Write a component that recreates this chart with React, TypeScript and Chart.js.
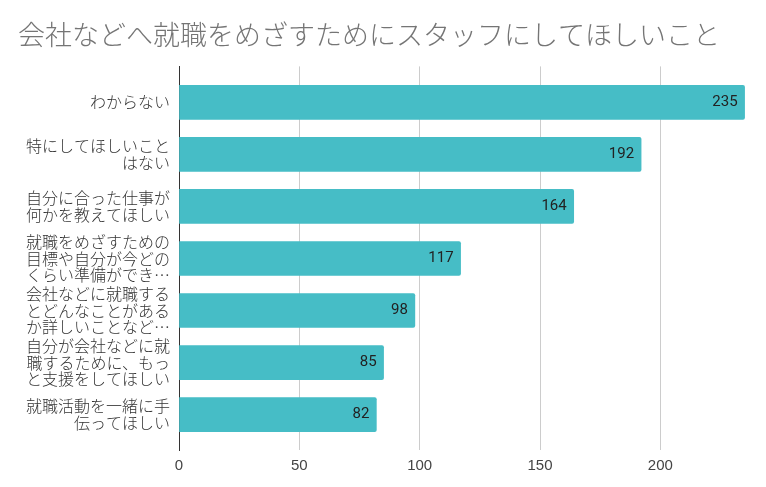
import React, { useEffect, useRef } from "react";
import { Chart, registerables } from "chart.js";

Chart.register(...registerables);

const TITLE = "会社などへ就職をめざすためにスタッフにしてほしいこと";

const categories: string[][] = [
  ["わからない"],
  ["特にしてほしいこと", "はない"],
  ["自分に合った仕事が", "何かを教えてほしい"],
  ["就職をめざすための", "目標や自分が今どの", "くらい準備ができ…"],
  ["会社などに就職する", "とどんなことがある", "か詳しいことなど…"],
  ["自分が会社などに就", "職するために、もっ", "と支援をしてほしい"],
  ["就職活動を一緒に手", "伝ってほしい"],
];

const values: number[] = [235, 192, 164, 117, 98, 85, 82];

const xTicks: number[] = [0, 50, 100, 150, 200];

const JP = "'Noto Sans CJK JP', 'Noto Sans', sans-serif";
const NUM = "Roboto, 'Noto Sans', sans-serif";
const TICK = "'Liberation Sans', Arial, sans-serif";

const valueLabels = {
  id: "valueLabels",
  afterDatasetsDraw(chart: any) {
    const ctx = chart.ctx;
    const meta = chart.getDatasetMeta(0);
    ctx.save();
    ctx.font = `15px ${NUM}`;
    ctx.fillStyle = "#222222";
    ctx.textAlign = "right";
    ctx.textBaseline = "middle";
    meta.data.forEach((bar: any, i: number) => {
      ctx.fillText(String(values[i]), bar.x - 7, bar.y);
    });
    ctx.restore();
  },
};

export default function App() {
  const ref = useRef<HTMLCanvasElement>(null);

  useEffect(() => {
    if (!ref.current) return;
    const chart = new Chart(ref.current, {
      type: "bar",
      data: {
        datasets: [
          {
            data: values.map((v, i) => ({ x: v, y: i })),
            backgroundColor: "#46BDC6",
            borderRadius: 2,
            borderSkipped: "start",
            barThickness: 34,
          },
        ],
      },
      options: {
        indexAxis: "y",
        responsive: false,
        animation: false,
        devicePixelRatio: 1,
        layout: { padding: { left: 18, right: 19, top: 0, bottom: 0 } },
        plugins: {
          legend: { display: false },
          tooltip: { enabled: false },
          title: {
            display: true,
            text: TITLE,
            align: "start",
            color: "#757575",
            font: { family: JP, size: 27, weight: "300", lineHeight: 1.2 },
            padding: { top: 19, bottom: 15 },
          },
        },
        scales: {
          x: {
            type: "linear",
            min: 0,
            max: 236,
            border: { display: false },
            grid: {
              drawTicks: false,
              color: (c: any) =>
                c.tick && c.tick.value !== 0 && xTicks.includes(c.tick.value)
                  ? "#cccccc"
                  : "rgba(0,0,0,0)",
            },
            ticks: {
              stepSize: 50,
              includeBounds: false,
              padding: 7,
              color: "#444444",
              font: { family: TICK, size: 15 },
              callback: (v: any) => (xTicks.includes(Number(v)) ? String(v) : ""),
            },
            afterFit: (s: any) => {
              s.height = 37;
            },
          },
          y: {
            type: "linear",
            reverse: true,
            offset: false,
            min: -0.69,
            max: 6.68,
            border: { display: true, color: "#333333", width: 1 },
            grid: { display: false, drawTicks: false, offset: false },
            ticks: {
              stepSize: 1,
              includeBounds: false,
              autoSkip: false,
              padding: 9,
              color: "#333333",
              font: { family: JP, size: 16, weight: "300", lineHeight: 1.04 },
              callback: (v: any) => {
                const n = Number(v);
                return Number.isInteger(n) && categories[n] ? categories[n] : "";
              },
            },
            afterFit: (s: any) => {
              s.width = 161;
            },
          },
        },
      },
      plugins: [valueLabels],
    } as any);
    return () => chart.destroy();
  }, []);

  return (
    <div style={{ position: "absolute", left: 0, top: 0, width: 766, height: 487, background: "#ffffff" }}>
      <canvas ref={ref} width={766} height={487} style={{ display: "block" }} />
    </div>
  );
}
